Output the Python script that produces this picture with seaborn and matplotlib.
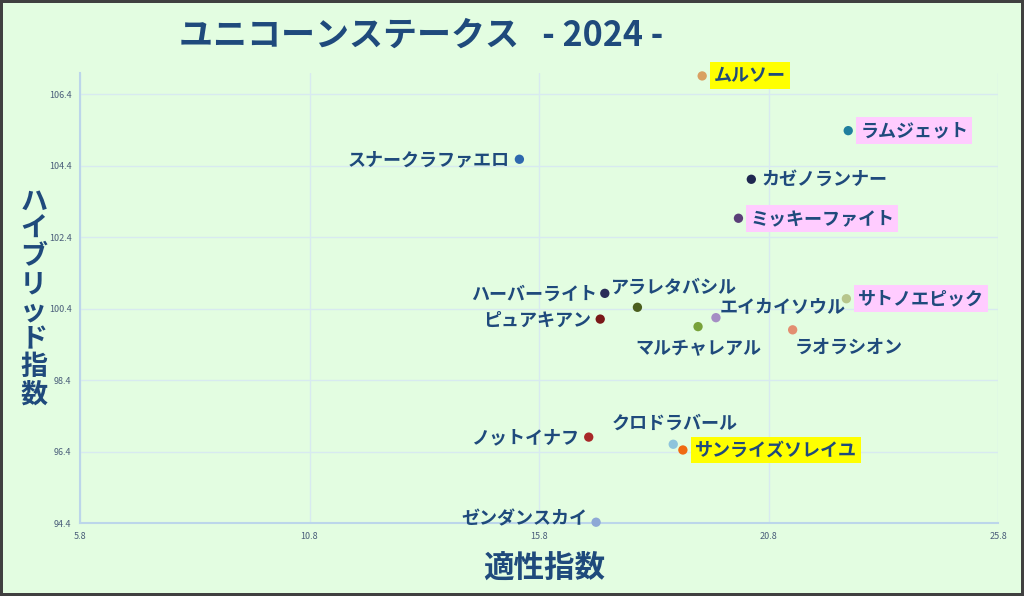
import numpy as np
import pandas as pd
import matplotlib
matplotlib.use("Agg")
import matplotlib.pyplot as plt
import seaborn as sns

# horse names and indexes
names = ["ムルソー", "ラムジェット", "スナークラファエロ", "カゼノランナー", "ミッキーファイト",
         "ハーバーライト", "アラレタバシル", "サトノエピック", "エイカイソウル", "ピュアキアン",
         "マルチャレアル", "ラオラシオン", "ノットイナフ", "クロドラバール", "サンライズソレイユ",
         "ゼンダンスカイ"]
tekisei = [19.35, 22.53, 15.37, 20.42, 20.14,
           17.23, 17.94, 22.49, 19.65, 17.13,
           19.26, 21.32, 16.88, 18.72, 18.93,
           17.04]
hybrid = [106.91, 105.38, 104.58, 104.02, 102.93,
          100.83, 100.44, 100.68, 100.15, 100.11,
          99.90, 99.81, 96.81, 96.61, 96.45,
          94.43]
xticks = [5.8, 10.8, 15.8, 20.8, 25.8]
yticks = [94.4, 96.4, 98.4, 100.4, 102.4, 104.4, 106.4]

# marker colours
colors = ["#D9A062", "#1F7F9E", "#2E68AE", "#1E2850", "#5A3E78",
          "#2A2C58", "#4B5E1E", "#B7C68C", "#A58EC4", "#7A1818",
          "#78A23A", "#E38E70", "#A82828", "#8EC4DC", "#F06A12",
          "#8EA8D6"]
palette = dict(zip(names, colors))

# highlighted labels
highlight = {"ムルソー": "#FFFF00", "サンライズソレイユ": "#FFFF00",
             "ラムジェット": "#FFCCFF", "ミッキーファイト": "#FFCCFF", "サトノエピック": "#FFCCFF"}

# label placement (pixel offset, alignment)
place = {
    "ムルソー": (12, 0, "left"), "ラムジェット": (12, 0, "left"),
    "スナークラファエロ": (-10, 0, "right"), "カゼノランナー": (10, 0, "left"),
    "ミッキーファイト": (12, 0, "left"), "ハーバーライト": (-8, -1, "right"),
    "アラレタバシル": (37, 20, "center"), "サトノエピック": (12, 0, "left"),
    "エイカイソウル": (4, 11, "left"), "ピュアキアン": (-9, -1, "right"),
    "マルチャレアル": (0, -22, "center"), "ラオラシオン": (2, -17, "left"),
    "ノットイナフ": (-10, -1, "right"), "クロドラバール": (1, 21, "center"),
    "サンライズソレイユ": (12, 0, "left"), "ゼンダンスカイ": (-9, 3, "right"),
}

df = pd.DataFrame({"name": names, "tekisei": tekisei, "hybrid": hybrid})

sns.set_style("whitegrid")
plt.rcParams['font.family'] = ['Noto Sans CJK JP', 'DejaVu Sans']

bg = "#E3FDE1"
navy = "#1F4A7C"
fig = plt.figure(figsize=(10.24, 5.96), dpi=100, facecolor=bg)
fig.patch.set_edgecolor("#404040")
fig.patch.set_linewidth(3)
ax = fig.add_axes([0.078, 0.122, 0.897, 0.756])
ax.set_facecolor(bg)

sns.scatterplot(data=df, x="tekisei", y="hybrid", hue="name", palette=palette,
                s=45, edgecolor="none", legend=False, ax=ax, zorder=3, clip_on=False)

for n, x, y in zip(names, tekisei, hybrid):
    dx, dy, ha = place[n]
    bbox = None
    if n in highlight:
        bbox = dict(boxstyle="square,pad=0.22", fc=highlight[n], ec="none")
    ax.annotate(n, (x, y), xytext=(dx, dy), textcoords="offset pixels",
                ha=ha, va="center", fontsize=13, fontweight="bold",
                color=navy, bbox=bbox, zorder=4, annotation_clip=False)

ax.set_xlim(5.8, 25.8)
ax.set_ylim(94.4, 107.0)
ax.set_xticks(xticks)
ax.set_yticks(yticks)
ax.set_xticklabels([f"{v:.1f}" for v in xticks])
ax.set_yticklabels([f"{v:.1f}" for v in yticks])
ax.tick_params(axis="both", labelsize=6.5, labelcolor="#4A5E7A", length=0, pad=6)
ax.grid(True, color="#D8EAF0", linewidth=1)
for s in ["top", "right"]:
    ax.spines[s].set_visible(False)
for s in ["left", "bottom"]:
    ax.spines[s].set_color("#BCD6EA")
    ax.spines[s].set_linewidth(1.5)
ax.set_xlabel("")
ax.set_ylabel("")

fig.text(0.411, 0.941, "ユニコーンステークス   - 2024 -", ha="center", va="center",
         fontsize=24.5, fontweight="bold", color=navy)
fig.text(0.531, 0.047, "適性指数", ha="center", va="center",
         fontsize=22, fontweight="bold", color=navy)
fig.text(0.033, 0.50, "\n".join("ハイブリッド指数"), ha="center", va="center",
         fontsize=19.5, fontweight="bold", color=navy, linespacing=0.98)

fig.savefig("out.png", dpi=100, facecolor=bg, edgecolor="#404040")
